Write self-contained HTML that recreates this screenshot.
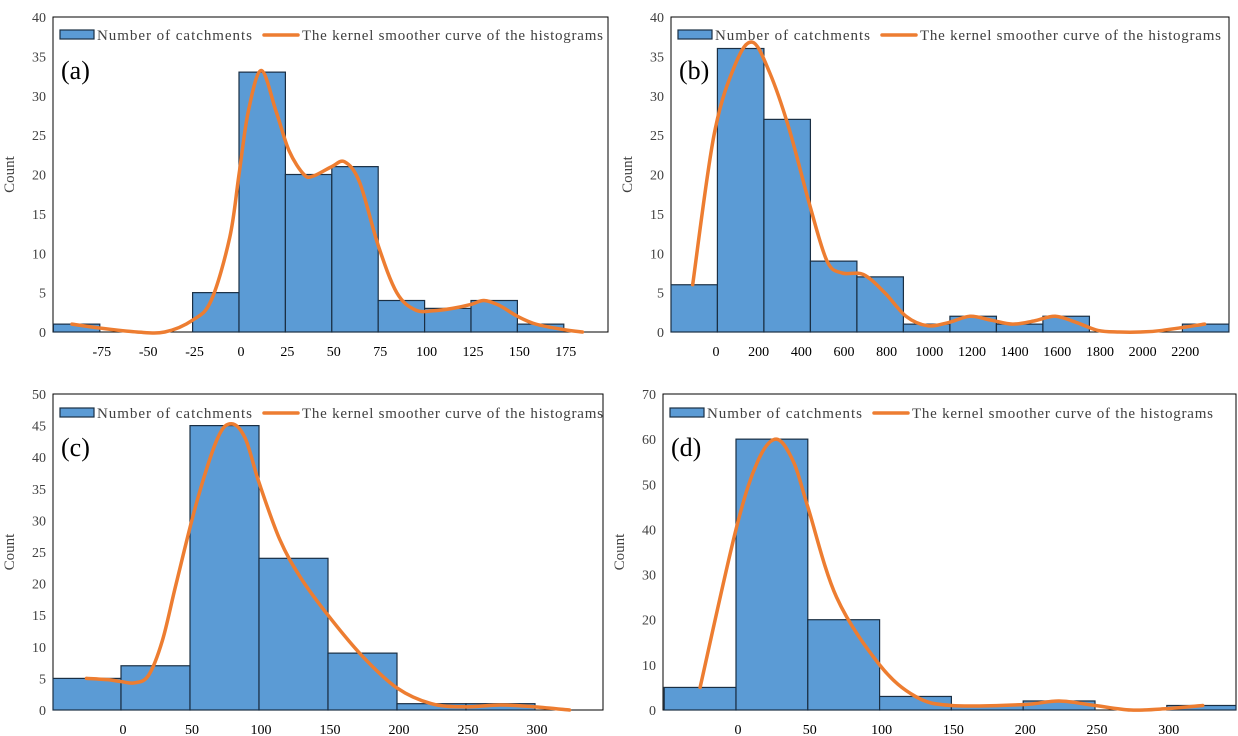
<!DOCTYPE html>
<html><head><meta charset="utf-8"><style>
html,body{margin:0;padding:0;background:#fff;}
svg{display:block;font-family:"Liberation Serif",serif;}
</style></head><body>
<svg id="fig" width="1238" height="736" viewBox="0 0 1238 736"></svg>
<script>
// Panel (a)
const aBinStart = -100, aBinWidth = 25;
const aCounts = [1,0,0,5,33,20,21,4,3,4,1];
const aTicks = [-75,-50,-25,0,25,50,75,100,125,150,175];
const aCurveX = [-90,-75,-55,-40,-25,-15,-5,0,5,12,20,27,35,40,50,57,65,75,85,95,105,115,125,132,140,150,160,175,185];
const aCurveY = [1,0.5,0,0,1.5,4,12,20,28,33.2,28,23,20,19.8,21,21.6,19,11,5,2.8,2.7,3,3.5,4,3.4,2,1,0.3,0];
// Panel (b)
const bBinStart = -202, bBinWidth = 218;
const bCounts = [6,36,27,9,7,1,2,1,2,0,0,1];
const bTicks = [0,200,400,600,800,1000,1200,1400,1600,1800,2000,2200];
const bCurveX = [-100,0,100,180,260,350,450,530,600,700,800,900,1000,1100,1200,1300,1400,1500,1600,1700,1800,1900,2000,2100,2300];
const bCurveY = [6,25,34,36.8,33,26,16,9,7.5,7.3,5,2,0.8,1.2,2,1.5,1,1.4,2,1.2,0.2,0,0,0.2,1];
// Panel (c)
const cBinStart = -50, cBinWidth = 50;
const cCounts = [5,7,45,24,9,1,1];
const cTicks = [0,50,100,150,200,250,300];
const cCurveX = [-25,-10,0,10,20,30,40,55,70,80,90,100,115,130,150,175,200,225,250,275,300,325];
const cCurveY = [5,4.8,4.5,4.3,5.5,11,20,33,43,45.3,43,36,27,21,15,8.5,3.5,1,0.5,0.8,0.5,0];
// Panel (d)
const dBinStart = -50, dBinWidth = 50;
const dCounts = [5,60,20,3,1,2,0,1];
const dTicks = [0,50,100,150,200,250,300];
const dCurveX = [-25,0,15,28,40,50,70,100,125,150,200,225,250,275,300,325];
const dCurveY = [5,40,55,60,55,45,25,10,3,1,1.2,2,1,0,0.3,1];

const panels = [
 {id:'a',L:53,R:608,T:17,B:332,ymax:40,ystep:5,x0:239,bs:aBinStart,bw:aBinWidth,pxPerBin:46.4,counts:aCounts,ticks:aTicks,cx:aCurveX,cy:aCurveY,legY:35},
 {id:'b',L:671,R:1229,T:17,B:332,ymax:40,ystep:5,x0:714,bs:bBinStart,bw:bBinWidth,pxPerBin:46.5,counts:bCounts,ticks:bTicks,cx:bCurveX,cy:bCurveY,legY:35},
 {id:'c',L:53,R:603,T:394,B:710,ymax:50,ystep:5,x0:121,bs:cBinStart,bw:cBinWidth,pxPerBin:69,counts:cCounts,ticks:cTicks,cx:cCurveX,cy:cCurveY,legY:413},
 {id:'d',L:663,R:1236,T:394,B:710,ymax:70,ystep:10,x0:736,bs:dBinStart,bw:dBinWidth,pxPerBin:71.8,counts:dCounts,ticks:dTicks,cx:dCurveX,cy:dCurveY,legY:413}
];
const NS='http://www.w3.org/2000/svg';
const svg=document.getElementById('fig');
function mk(tag,attrs,parent){const e=document.createElementNS(NS,tag);for(const k in attrs)e.setAttribute(k,attrs[k]);(parent||svg).appendChild(e);return e;}

panels.forEach(p=>{
  const g=mk('g',{});
  
  
  const pxPerUnit=p.pxPerBin/p.bw;
  const xs=v=>p.x0+v*pxPerUnit;
  const ys=v=>p.B-(v/p.ymax)*(p.B-p.T);
  const fr=mk('rect',{x:p.L,y:p.T,width:p.R-p.L,height:p.B-p.T,fill:'none',stroke:'#000','stroke-width':1},g);
  
  
  for(let v=0;v<=p.ymax;v+=p.ystep){
    const t=mk('text',{x:p.L-7,y:ys(v)+5,'text-anchor':'end','font-size':14,fill:'#404040'},g);
    t.textContent=v;
    
    
  }
  const yl=mk('text',{transform:`translate(${p.L-39},${(p.T+p.B)/2}) rotate(-90)`,'text-anchor':'middle','font-size':15,fill:'#404040'},g);
  yl.textContent='Count';
  
  
  p.counts.forEach((c,i)=>{
    const v0=p.bs+i*p.bw, v1=v0+p.bw;
    const x0=Math.max(xs(v0),p.L), x1=Math.min(xs(v1),p.R);
    const r=mk('rect',{x:x0,y:ys(c),width:x1-x0,height:p.B-ys(c),fill:'#5b9bd5',stroke:'#1a2f44','stroke-width':1.2},g);
    
    
  });
  p.ticks.forEach(v=>{
    const t=mk('text',{x:xs(v)+2,y:p.B+24,'text-anchor':'middle','font-size':14,fill:'#000'},g);
    t.textContent=v;
    
    
  });
  const pts=p.cx.map((v,i)=>[xs(v),ys(p.cy[i])]);
  let d='M'+pts[0][0]+','+pts[0][1];
  for(let i=0;i<pts.length-1;i++){
    const p0=pts[Math.max(i-1,0)],p1=pts[i],p2=pts[i+1],p3=pts[Math.min(i+2,pts.length-1)];
    const c1=[p1[0]+(p2[0]-p0[0])/6,p1[1]+(p2[1]-p0[1])/6];
    const c2=[p2[0]-(p3[0]-p1[0])/6,p2[1]-(p3[1]-p1[1])/6];
    d+=` C${c1[0]},${c1[1]} ${c2[0]},${c2[1]} ${p2[0]},${p2[1]}`;
  }
  const cu=mk('path',{d:d,fill:'none',stroke:'#ed7d31','stroke-width':3.5,'stroke-linecap':'round','stroke-linejoin':'round'},g);
  
  
  const lg=mk('g',{},g);
  
  
  const sw=mk('rect',{x:p.L+7,y:p.legY-5,width:34,height:9,fill:'#5b9bd5',stroke:'#1a2f44','stroke-width':1.2},lg);
  
  
  const t1=mk('text',{x:p.L+44,y:p.legY+5,'font-size':15,fill:'#404040',textLength:155,lengthAdjust:'spacing'},lg);
  t1.textContent='Number of catchments';
  
  
  const ln=mk('line',{x1:p.L+211,y1:p.legY,x2:p.L+245,y2:p.legY,stroke:'#ed7d31','stroke-width':3.5,'stroke-linecap':'round'},lg);
  
  
  const t2=mk('text',{x:p.L+249,y:p.legY+5,'font-size':15,fill:'#404040',textLength:301,lengthAdjust:'spacing'},lg);
  t2.textContent='The kernel smoother curve of the histograms';
  
  
  const pl=mk('text',{x:p.L+8,y:p.T+62,'font-size':26,fill:'#000'},g);
  pl.textContent='('+p.id+')';
  
  
});
</script>
</body></html>
